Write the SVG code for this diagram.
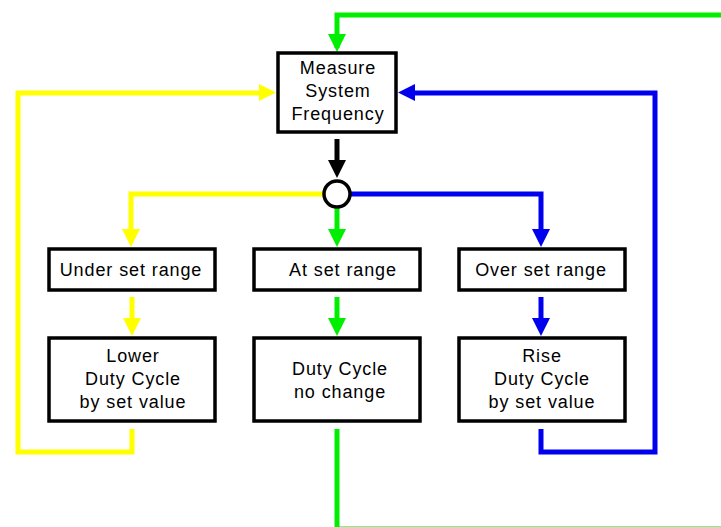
<svg xmlns="http://www.w3.org/2000/svg" width="721" height="527" viewBox="0 0 721 527">
<style>
.box{fill:#fff;stroke:#000;stroke-width:3.5}
.t{font-family:"Liberation Sans",Arial,sans-serif;font-size:18px;letter-spacing:0.9px;fill:#000;text-anchor:middle}
.w{fill:none;stroke-width:5;stroke-linejoin:miter}
.y{stroke:#ffff00}.g{stroke:#00ee00}.b{stroke:#0000ee}.k{stroke:#000}
</style>
<rect width="721" height="527" fill="#fff"/>
<g id="connectors">
  <path class="w g" d="M337,48 V15 H721"/>
  <path class="w g" d="M337,429 V529 H721"/>
  <path class="w y" d="M132,429 V452 H18 V93 H262"/>
  <path class="w b" d="M541,429 V452 H655 V93 H412"/>
  <path class="w y" d="M323,194 H131 V232"/>
  <path class="w b" d="M351,194 H541 V232"/>
  <path class="w g" d="M337,208 V232"/>
  <path class="w k" d="M337,139 V162"/>
  <path class="w y" d="M132,297 V320"/>
  <path class="w g" d="M337,297 V320"/>
  <path class="w b" d="M541,297 V320"/>
  <polygon fill="#00ee00" points="328,34 346,34 337,52"/>
  <polygon fill="#ffff00" points="259,84 259,101 276,92.5"/>
  <polygon fill="#0000ee" points="415,84 415,101 398,92.5"/>
  <polygon fill="#000" points="328,160 346,160 337,178"/>
  <polygon fill="#ffff00" points="122,229 140,229 131,247"/>
  <polygon fill="#00ee00" points="328,229 346,229 337,247"/>
  <polygon fill="#0000ee" points="532,229 550,229 541,247"/>
  <polygon fill="#ffff00" points="123,318 141,318 132,336"/>
  <polygon fill="#00ee00" points="328,318 346,318 337,336"/>
  <polygon fill="#0000ee" points="532,318 550,318 541,336"/>
  <circle cx="337" cy="194" r="13" fill="#fff" stroke="#000" stroke-width="3.5"/>
</g>
<g id="measure">
  <rect class="box" x="278" y="53" width="118" height="79"/>
  <text class="t" x="338" y="74">Measure</text>
  <text class="t" x="338" y="97">System</text>
  <text class="t" x="338" y="120">Frequency</text>
</g>
<g id="under">
  <rect class="box" x="49" y="249" width="166" height="41"/>
  <text class="t" x="131" y="276">Under set range</text>
</g>
<g id="at">
  <rect class="box" x="254" y="249" width="166" height="41"/>
  <text class="t" x="343" y="276">At set range</text>
</g>
<g id="over">
  <rect class="box" x="459" y="249" width="166" height="41"/>
  <text class="t" x="541" y="276">Over set range</text>
</g>
<g id="lower">
  <rect class="box" x="49" y="338" width="166" height="83"/>
  <text class="t" x="133" y="362">Lower</text>
  <text class="t" x="133" y="385">Duty Cycle</text>
  <text class="t" x="133" y="408">by set value</text>
</g>
<g id="nochange">
  <rect class="box" x="254" y="338" width="166" height="83"/>
  <text class="t" x="340" y="375">Duty Cycle</text>
  <text class="t" x="340" y="398">no change</text>
</g>
<g id="rise">
  <rect class="box" x="459" y="338" width="166" height="83"/>
  <text class="t" x="542" y="362">Rise</text>
  <text class="t" x="542" y="385">Duty Cycle</text>
  <text class="t" x="542" y="408">by set value</text>
</g>
</svg>
